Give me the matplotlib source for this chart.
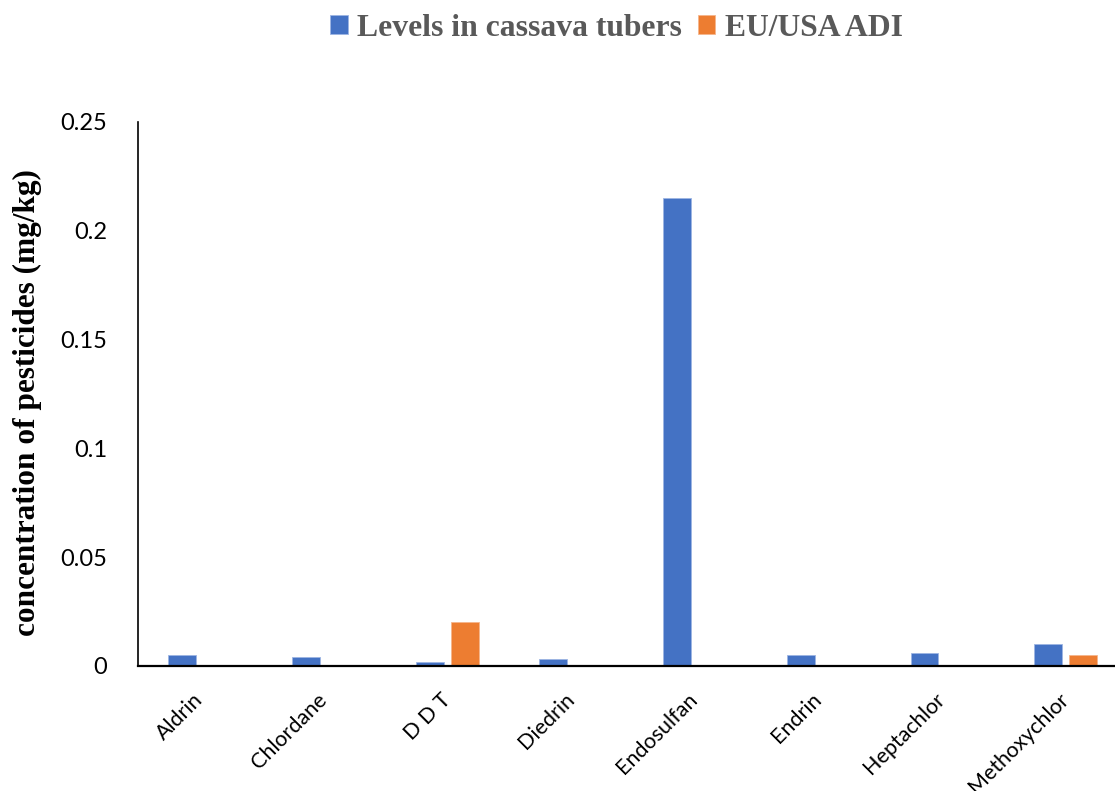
import matplotlib
matplotlib.use("Agg")
import matplotlib.pyplot as plt
import numpy as np

categories = ["Aldrin", "Chlordane", "D D T", "Diedrin", "Endosulfan", "Endrin", "Heptachlor", "Methoxychlor"]
levels_cassava = [0.005, 0.004, 0.002, 0.003, 0.215, 0.005, 0.006, 0.010]
eu_usa_adi = [0.0, 0.0005, 0.020, 0.0, 0.0005, 0.0, 0.0, 0.005]
series_names = ["Levels in cassava tubers", "EU/USA ADI"]
yticks = [0, 0.05, 0.1, 0.15, 0.2, 0.25]
ytick_labels = ["0", "0.05", "0.1", "0.15", "0.2", "0.25"]

blue = "#4472C4"
orange = "#ED7D31"

fig = plt.figure(figsize=(11.15, 7.91), dpi=100)
ax = fig.add_axes([138/1115, 125/791, 989.6/1115, 544/791])

x = np.arange(len(categories))
w = 0.226
off = 0.142
ax.bar(x - off, levels_cassava, w, color=blue, edgecolor="#9DB5E3", linewidth=0.6, label=series_names[0])
ax.bar(x + off, eu_usa_adi, w, color=orange, edgecolor="#F5B58C", linewidth=0.6, label=series_names[1])

ax.set_xlim(-0.5, len(categories) - 0.5)
ax.set_ylim(0, 0.25)
ax.set_yticks(yticks)
ax.set_yticklabels(ytick_labels, fontfamily="Lato", fontsize=17)
ax.set_xticks(x)
ax.set_xticklabels(categories, rotation=45, ha="right", va="center",
                   rotation_mode="anchor", fontfamily="Lato", fontsize=15.5)
ax.tick_params(axis="y", length=0, pad=22)
ax.tick_params(axis="x", length=0, pad=22)

for s in ["top", "right"]:
    ax.spines[s].set_visible(False)
ax.spines["left"].set_linewidth(1.2)
ax.spines["bottom"].set_linewidth(1.6)

ax.set_ylabel("concentration of pesticides (mg/kg)", fontfamily="Liberation Serif",
              fontweight="bold", fontsize=22.5)
ax.yaxis.set_label_coords(-96/989.6, 0.485)

leg = fig.legend(loc="center", bbox_to_anchor=(0.553, 1 - 28/791), ncol=2, frameon=False,
                 prop={"family": "Liberation Serif", "weight": "bold", "size": 22.8},
                 handlelength=0.55, handleheight=0.55, handletextpad=0.3, columnspacing=0.5)
for t in leg.get_texts():
    t.set_color("#595959")

fig.savefig("out.png", dpi=100)
